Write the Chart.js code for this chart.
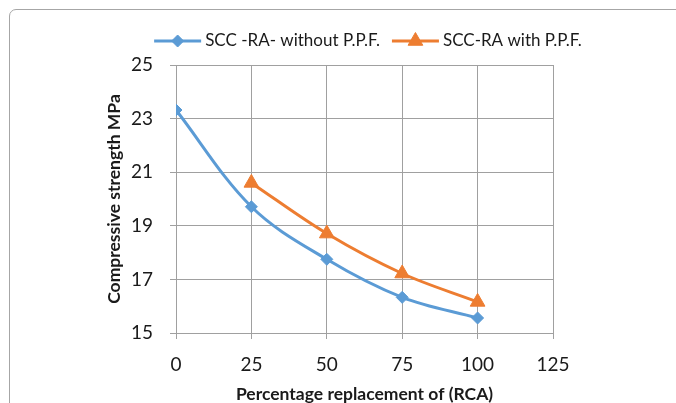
<!DOCTYPE html>
<html>
<head>
<meta charset="utf-8">
<script src="https://cdn.jsdelivr.net/npm/chart.js@4.4.1/dist/chart.umd.min.js"></script>
<style>
  html, body { margin: 0; padding: 0; background: #fff; }
  #wrap { position: relative; width: 676px; height: 403px; overflow: hidden; }
  #frame {
    position: absolute; left: 9px; top: 9px; width: 700px; height: 420px;
    border: 1px solid #a6a6a6; border-top-left-radius: 7px;
  }
  #grafica { position: absolute; left: 0; top: 0; }
</style>
</head>
<body>
<div id="wrap">
  <div id="frame"></div>
  <canvas id="grafica" width="676" height="403"></canvas>
</div>
<script>
// Datos
const reemplazoRCA = [0, 25, 50, 75, 100];
const sinPPF = [23.32, 19.71, 17.75, 16.33, 15.56];
const conPPF = [null, 20.6, 18.71, 17.22, 16.16];
const etiquetasSerie = ['SCC -RA- without P.P.F.', 'SCC-RA with P.P.F.'];
const ticksX = [0, 25, 50, 75, 100, 125];
const ticksY = [15, 17, 19, 21, 23, 25];

const AZUL = '#5b9bd5';
const NARANJA = '#ed7d31';
const GRIS = '#a0a0a0';
const TEXTO = '#1a1a1a';
const FUENTE = 'Lato, "Liberation Sans", sans-serif';

const puntos = (serie) => reemplazoRCA.map((x, i) => ({ x: x, y: serie[i] }));

// Leyenda propia: línea + marcador + texto, centrada como en Excel
const leyendaExcel = {
    id: 'leyendaExcel',
    afterDraw(chart) {
        const ctx = chart.ctx;
        const largoLinea = 47, hueco = 4, separacion = 12, yCentro = 41;
        ctx.save();
        ctx.font = '17px ' + FUENTE;
        const anchos = chart.data.datasets.map(ds => largoLinea + hueco + ctx.measureText(ds.label).width);
        const total = anchos.reduce((a, b) => a + b, 0) + separacion * (anchos.length - 1);
        let x = 368 - total / 2;
        chart.data.datasets.forEach((ds, i) => {
            ctx.strokeStyle = ds.borderColor;
            ctx.lineWidth = 3;
            ctx.beginPath();
            ctx.moveTo(x, yCentro);
            ctx.lineTo(x + largoLinea, yCentro);
            ctx.stroke();
            ctx.fillStyle = ds.pointBackgroundColor;
            ctx.strokeStyle = ds.pointBorderColor;
            ctx.lineWidth = 1;
            Chart.helpers.drawPoint(ctx, {
                pointStyle: ds.pointStyle,
                radius: ds.pointRadius,
                borderWidth: 1
            }, x + largoLinea / 2, yCentro);
            ctx.fillStyle = TEXTO;
            ctx.textBaseline = 'middle';
            ctx.textAlign = 'left';
            ctx.fillText(ds.label, x + largoLinea + hueco, yCentro);
            x += anchos[i] + separacion;
        });
        ctx.restore();
    }
};

const ctx = document.getElementById('grafica').getContext('2d');

new Chart(ctx, {
    type: 'line',
    data: {
        datasets: [
            {
                label: etiquetasSerie[0],
                data: puntos(sinPPF),
                borderColor: AZUL,
                backgroundColor: AZUL,
                borderWidth: 3,
                tension: 0.35,
                pointStyle: 'rectRot',
                pointRadius: 6,
                pointBackgroundColor: AZUL,
                pointBorderColor: AZUL,
                pointBorderWidth: 1
            },
            {
                label: etiquetasSerie[1],
                data: puntos(conPPF),
                borderColor: NARANJA,
                backgroundColor: NARANJA,
                borderWidth: 3,
                tension: 0.35,
                pointStyle: 'triangle',
                pointRadius: 8.5,
                pointBackgroundColor: NARANJA,
                pointBorderColor: NARANJA,
                pointBorderWidth: 1
            }
        ]
    },
    options: {
        responsive: false,
        animation: false,
        layout: { padding: { left: 100, right: 123, top: 65, bottom: -2 } },
        scales: {
            x: {
                type: 'linear',
                min: 0,
                max: 125,
                afterBuildTicks: (scale) => { scale.ticks = ticksX.map(v => ({ value: v })); },
                afterFit: (scale) => { scale.height = 72; },
                grid: { color: GRIS, tickLength: 6, lineWidth: 1 },
                border: { color: GRIS },
                ticks: { color: TEXTO, padding: 14, font: { family: FUENTE, size: 19 } },
                title: {
                    display: true,
                    text: 'Percentage replacement of (RCA)',
                    color: TEXTO,
                    padding: { top: 4, bottom: 0 },
                    font: { family: FUENTE, size: 17.5, weight: 'bold' }
                }
            },
            y: {
                min: 15,
                max: 25,
                afterBuildTicks: (scale) => { scale.ticks = ticksY.map(v => ({ value: v })); },
                afterFit: (scale) => { scale.width = 76; },
                grid: { color: GRIS, tickLength: 6, lineWidth: 1 },
                border: { color: GRIS },
                ticks: { color: TEXTO, padding: 17, font: { family: FUENTE, size: 19 } },
                title: {
                    display: true,
                    text: 'Compressive strength MPa',
                    color: TEXTO,
                    padding: { top: 4, bottom: 4 },
                    font: { family: FUENTE, size: 17.5, weight: 'bold' }
                }
            }
        },
        plugins: {
            legend: { display: false },
            tooltip: { enabled: false }
        }
    },
    plugins: [leyendaExcel]
});
</script>
</body>
</html>
